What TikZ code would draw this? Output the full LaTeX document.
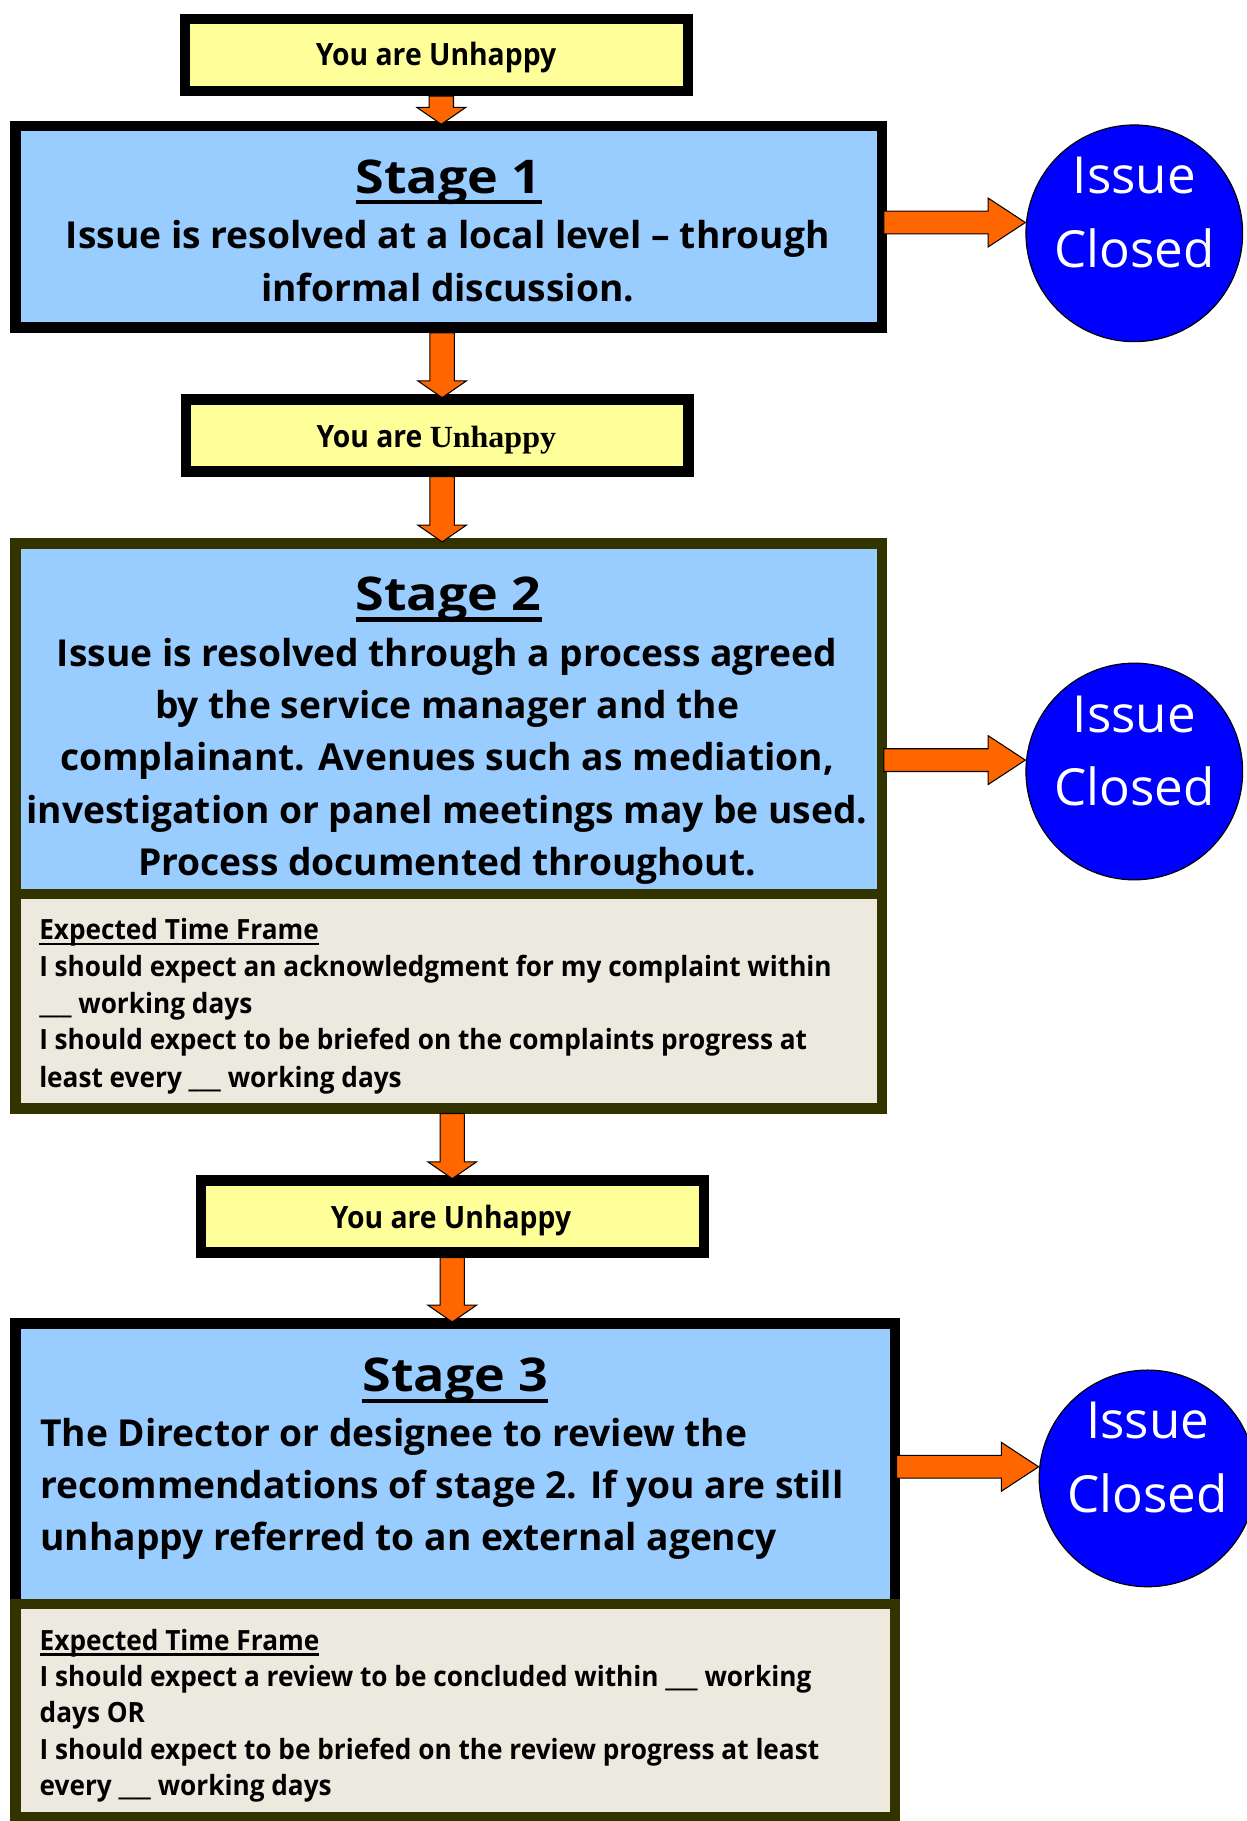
\documentclass[tikz,border=0pt]{standalone}
\usepackage{fontspec}
\setmainfont{Open Sans}
\newfontfamily\serifU{Liberation Serif}
\usetikzlibrary{calc}
\definecolor{sblue}{HTML}{99CCFF}
\definecolor{syel}{HTML}{FFFF99}
\definecolor{sbeige}{HTML}{ECE9DF}
\definecolor{dolive}{HTML}{333300}
\definecolor{sorange}{HTML}{FF6600}
\definecolor{cblue}{HTML}{0000FF}
% underline: text, gap below baseline, thickness
\newcommand\myul[3]{\sbox0{#1}\rlap{\rule[\dimexpr-#2-#3\relax]{\wd0}{#3}}\usebox0}
\newcommand\varr[3]{\draw[farrow] let \p1=(#1), \p2=(#2) in
  (#3pt-10.5pt,\y1) -- (#3pt-10.5pt,\y2+11.5pt) -- (#3pt-21pt,\y2+11.5pt) -- (#3pt,\y2-3pt)
  -- (#3pt+21pt,\y2+11.5pt) -- (#3pt+10.5pt,\y2+11.5pt) -- (#3pt+10.5pt,\y1) -- cycle;}
\newcommand\harr[3]{\draw[farrow] let \p1=(#1), \p2=(#2) in
  (\x1-3pt,-#3pt+9.8pt) -- (\x2-32pt,-#3pt+9.8pt) -- (\x2-32pt,-#3pt+21pt) -- (\x2,-#3pt)
  -- (\x2-32pt,-#3pt-21pt) -- (\x2-32pt,-#3pt-9.8pt) -- (\x1-3pt,-#3pt-9.8pt) -- cycle;}
\tikzset{
  ybox/.style={draw=black, line width=9pt, fill=syel, minimum width=433pt, minimum height=62pt, inner sep=0pt},
  sbox/.style={line width=9pt, fill=sblue, inner sep=0pt},
  lbox/.style={draw=dolive, line width=9pt, fill=sbeige, inner sep=0pt},
  closed/.style={circle, draw=black, line width=1pt, fill=cblue, minimum size=186.6pt, inner sep=0pt},
  farrow/.style={draw=black, line width=0.9pt, fill=sorange, line join=miter},
  ytext/.style={inner sep=0pt, anchor=base, font=\fontsize{26.5}{30}\selectfont\bfseries\addfontfeature{FakeStretch=0.92}},
  ttext/.style={inner sep=0pt, anchor=base, font=\fontsize{40}{48}\selectfont\bfseries\addfontfeature{FakeStretch=1.12}},
  btext/.style={inner sep=0pt, anchor=base, font=\fontsize{32}{45}\selectfont\bfseries},
  bltext/.style={inner sep=0pt, anchor=base west, font=\fontsize{32}{45}\selectfont\bfseries},
  stext/.style={inner sep=0pt, anchor=base west, font=\fontsize{24}{32}\selectfont\bfseries\addfontfeature{FakeStretch=0.94}},
  ctext/.style={inner sep=0pt, anchor=base, text=white, font=\fontsize{44}{63}\selectfont},
}
\begin{document}
\begin{tikzpicture}[x=1pt,y=-1pt]
\useasboundingbox (0,0) rectangle (1073,1568);
\fill[white] (0,0) rectangle (1073,1568);

% boxes
\node[ybox] (b1) at (376,47.25) {};
\node[sbox, draw=black, minimum width=746.1pt, minimum height=173.5pt] (s1) at (386.45,195.25) {};
\node[ybox] (b2) at (376.5,374.9) {};
\node[sbox, draw=dolive, minimum width=746.1pt, minimum height=301.9pt] (s2) at (386.45,619.05) {};
\node[lbox, minimum width=746.1pt, minimum height=184.3pt] (s2l) at (386.45,862.15) {};
\node[ybox] (b3) at (389.6,1047.4) {};
\node[sbox, draw=black, minimum width=757.1pt, minimum height=241.2pt] (s3) at (391.95,1260.4) {};
\node[lbox, minimum width=757.1pt, minimum height=184pt] (s3l) at (391.95,1473) {};

% circles
\node[closed] (c1) at (976.7,200.9) {};
\node[closed] (c2) at (976.7,664.3) {};
\node[closed] (c3) at (988.1,1273) {};

% arrows
\varr{b1.south}{s1.north}{380}
\varr{s1.south}{b2.north}{380.7}
\varr{b2.south}{s2.north}{380.7}
\varr{s2l.south}{b3.north}{389.4}
\varr{b3.south}{s3.north}{389.4}
\harr{s1.east}{c1.west}{191.6}
\harr{s2.east}{c2.west}{654.5}
\harr{s3.east}{c3.west}{1263}

% yellow texts
\node[ytext] (y1) at (375.5,56) {You are Unhappy};
\node[ytext] (y2) at (375.7,385.2) {You are {\serifU\addfontfeature{FakeStretch=1.04}Unhappy}};
\node[ytext] (y3) at (388.3,1057.8) {You are Unhappy};

% stage 1
\node[ttext] (s1t) at (386.3,166.5) {\myul{Stage 1}{5.5pt}{4pt}};
\node[btext] (s1a) at (385.5,214) {Issue is resolved at a local level – through};
\node[btext] (s1b) at (385.5,260) {informal discussion.};

% stage 2
\node[ttext] (s2t) at (386.3,525.9) {\myul{Stage 2}{5.7pt}{4pt}};
\node[btext] (s2a) at (385,573.6) {Issue is resolved through a process agreed};
\node[btext] (s2b) at (385,618.6) {by the service manager and the};
\node[btext] (s2c) at (385,663.7) {complainant. Avenues such as mediation,};
\node[btext] (s2d) at (385,709) {investigation or panel meetings may be used.};
\node[btext] (s2e) at (385,753.5) {Process documented throughout.};
\node[stext] (s2f) at (33.6,809) {\myul{Expected Time Frame}{2.6pt}{2.2pt}};
\node[stext] (s2g) at (33.6,841) {I should expect an acknowledgment for my complaint within};
\node[stext] (s2h) at (33.6,872.5) {\_\_\_ working days};
\node[stext] (s2i) at (33.6,904) {I should expect to be briefed on the complaints progress at};
\node[stext] (s2j) at (33.6,936) {least every \_\_\_ working days};

% stage 3
\node[ttext] (s3t) at (392.2,1198.5) {\myul{Stage 3}{5.7pt}{4pt}};
\node[bltext] (s3a) at (34.6,1245.8) {The Director or designee to review the};
\node[bltext] (s3b) at (34.6,1290.3) {recommendations of stage 2. If you are still};
\node[bltext] (s3c) at (34.6,1334.8) {unhappy referred to an external agency};
\node[stext] (s3f) at (34,1421) {\myul{Expected Time Frame}{2.6pt}{2.2pt}};
\node[stext] (s3g) at (34,1452.5) {I should expect a review to be concluded within \_\_\_ working};
\node[stext] (s3h) at (34,1483.5) {days OR};
\node[stext] (s3i) at (34,1515) {I should expect to be briefed on the review progress at least};
\node[stext] (s3j) at (34,1546) {every \_\_\_ working days};

% circle texts
\node[ctext] (c1a) at ($(c1)+(0,-34)$) {Issue};
\node[ctext] (c1b) at ($(c1)+(0,29.5)$) {Closed};
\node[ctext] (c2a) at ($(c2)+(0,-34)$) {Issue};
\node[ctext] (c2b) at ($(c2)+(0,29.5)$) {Closed};
\node[ctext] (c3a) at ($(c3)+(0,-34)$) {Issue};
\node[ctext] (c3b) at ($(c3)+(0,29.5)$) {Closed};
\end{tikzpicture}
\end{document}
